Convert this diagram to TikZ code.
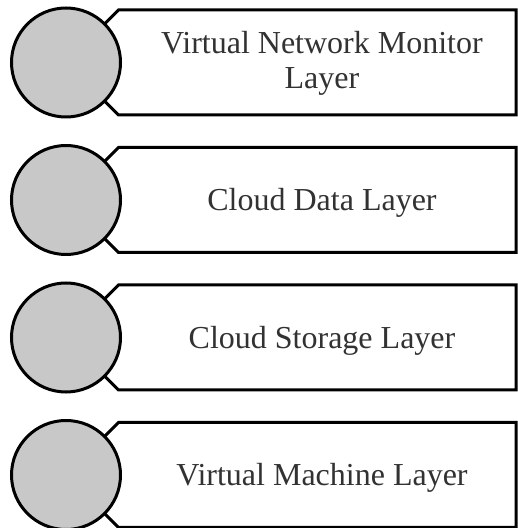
\documentclass[tikz,border=0pt]{standalone}
\usepackage{fontspec}
\setmainfont{Liberation Serif}
\usepackage{xcolor}

\definecolor{discgray}{RGB}{200,200,200}
\definecolor{textgray}{RGB}{50,50,50}

\begin{document}
\begin{tikzpicture}[
    x=1pt, y=1pt,
    layer_box/.style={draw=black, line width=3pt, fill=white},
    layer_disc/.style={circle, draw=black, line width=3pt, fill=discgray,
                       minimum size=109pt, inner sep=0pt},
    layer_text/.style={align=center, text=textgray, font=\fontsize{32}{35}\selectfont}
]
\useasboundingbox (0,0) rectangle (518,528);

% Layers, top to bottom
\foreach \n/\y/\dy/\txt in {1/465.5/-1/{Virtual Network Monitor\\Layer},
                            2/328/-3/{Cloud Data Layer},
                            3/190.5/-3/{Cloud Storage Layer},
                            4/53/-3/{Virtual Machine Layer}} {
    \coordinate (c\n) at (66,\y);
    % box with cut corners, its point hidden behind the disc
    \draw[layer_box] (c\n) -- ++(52.5,52.5) -- (516,\y+52.5) -- (516,\y-52.5)
        -- ++(-397.5,0) -- cycle;
    \node[layer_disc] (disc\n) at (c\n) {};
    \node[layer_text, yshift=\dy] (label\n) at (322,\y) {\txt};
}

\end{tikzpicture}
\end{document}
